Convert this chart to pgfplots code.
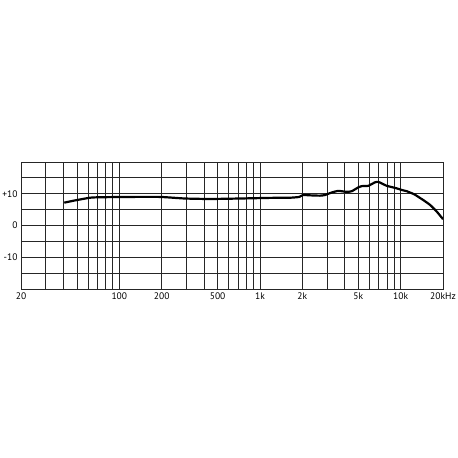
\documentclass[border=0pt]{standalone}
\usepackage{pgfplots}
\pgfplotsset{compat=1.18}
\usepackage{fontspec}
\setmainfont{PT Sans}

\begin{document}
\begin{tikzpicture}
\path[use as bounding box] (0,0) rectangle (458bp,458bp);

\begin{axis}[
    at={(21bp,169bp)}, anchor=south west,
    scale only axis,
    width=422bp, height=127bp,
    xmode=log,
    xmin=20, xmax=20000,
    ymin=-20, ymax=20,
    xtick={20,100,200,500,1000,2000,5000,10000,20000},
    xticklabels={20,100,200,500,1k,2k,5k,10k,20kHz},
    minor xtick={30,40,50,60,70,80,90,300,400,600,700,800,900,
                 3000,4000,6000,7000,8000,9000},
    ytick={-10,0,10},
    yticklabels={-10,0,+10},
    minor ytick={-15,-5,5,15},
    grid=both,
    major grid style={black!85, line width=0.8bp},
    minor grid style={black!85, line width=0.8bp},
    axis line style={black!85, line width=0.9bp},
    major tick length=0pt, minor tick length=0pt,
    tick label style={font=\fontsize{9.5bp}{11bp}\selectfont},
    /pgf/number format/assume math mode=true,
    log ticks with fixed point,
]
\addplot[black, line width=2.2bp, line join=round, smooth, tension=0.3] coordinates {
    (40.6,7.2) (48.4,7.9) (61.9,8.75) (72.9,8.9) (119,9.0) (195,9.0)
    (293,8.5) (441,8.35) (721,8.5) (1178,8.7) (1634,8.75) (1900,9.0)
    (2020,9.6) (2266,9.5) (2670,9.4) (2898,9.6) (3235,10.4) (3604,10.9)
    (4135,10.6) (4487,10.8) (4999,12.0) (5285,12.4) (5888,12.5) (6570,13.6)
    (6935,13.75) (7330,13.25) (7957,12.5) (8636,12.1) (9375,11.7) (10170,11.2)
    (11040,10.8) (12100,10.1) (12640,9.7) (14490,8.0) (16170,6.5) (18040,4.4)
    (20000,2.0)
};
\end{axis}
\end{tikzpicture}
\end{document}
